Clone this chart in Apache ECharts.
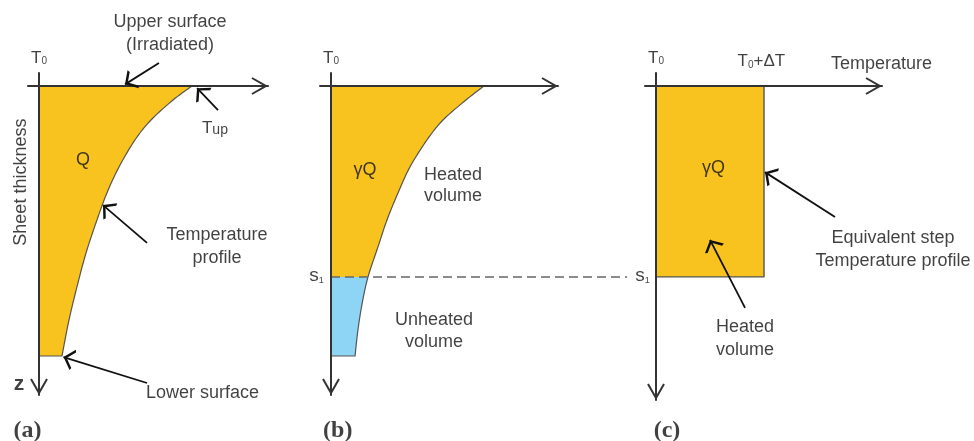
<!DOCTYPE html>
<html>
<head>
<meta charset="utf-8">
<title>Temperature profiles through the sheet thickness</title>
<script src="https://cdn.jsdelivr.net/npm/echarts@6.0.0/dist/echarts.min.js"></script>
<style>
html,body{margin:0;padding:0;background:#ffffff;}
#chart{width:974px;height:441px;}
</style>
</head>
<body>
<div id="chart"></div>
<script>
// ---------------- data ----------------
// temperature normalised: 0 = T0, 1 = Tup ; depth normalised: 0 = upper surface, 1 = lower surface
const profileA_depth = [1.000, 0.867, 0.744, 0.619, 0.496, 0.396, 0.300, 0.200, 0.126, 0.052, 0.000];
const profileA_temp  = [0.150, 0.196, 0.248, 0.307, 0.379, 0.444, 0.523, 0.627, 0.732, 0.876, 1.000];
const profileB_depth = [1.000, 0.904, 0.807, 0.707, 0.596, 0.496, 0.396, 0.300, 0.200, 0.126, 0.052, 0.000];
const profileB_temp  = [0.157, 0.176, 0.203, 0.242, 0.307, 0.366, 0.438, 0.516, 0.627, 0.732, 0.882, 1.000];
const heatedDepth = 0.707;     // s1
const stepTemp = 0.706;        // T0 + ΔT
const dashEndTemp = 1.935;     // extent of the s1 guide line (panel b units)

// ---------------- layout / style ----------------
const FONT = '"Liberation Sans", Arial, Helvetica, sans-serif';
const SERIF = '"Liberation Serif", "Times New Roman", serif';
const YELLOW = '#F8C21F', BLUE = '#8ED5F5', EDGE = '#555555', INK = '#111111', AXIS = '#333333';
const UNIT_T = 153, UNIT_Z = 270;           // px per unit
const AXIS_Y = 86, AXIS_TOP = 73, LEFT_EXT = 11;
const panels = [
  {x0: 39,  tipX: 268, tipY: 395},
  {x0: 331, tipX: 558, tipY: 395},
  {x0: 656, tipX: 882, tipY: 400}
];

function chevron(W, L, t) {
  const h = t / 2, len = Math.hypot(W, L), sn = W / len, cs = L / len, c = h / sn, yEnd = c + L;
  const pts = [[0, 0], [W + h * cs, yEnd - h * sn], [W - h * cs, yEnd + h * sn], [0, 2 * c],
               [-(W - h * cs), yEnd + h * sn], [-(W + h * cs), yEnd - h * sn]];
  const X = W + h * cs, Y = yEnd + h * sn;
  const f = p => (p[0] + X).toFixed(2) + ' ' + (p[1] + Y).toFixed(2);
  let d = 'path://M' + pts.map(f).join(' L') + ' Z';
  d += ' M' + f([0, -Y]) + ' L' + f([0.05, -Y]) + ' L' + f([0, -Y + 0.05]) + ' Z';
  return {symbol: d, size: [2 * X, 2 * Y]};
}
const AX_ARROW = chevron(8, 14, 2);
const NOTE_ARROW = chevron(5.5, 8.5, 1.8);

const SEG = 10;
function smoothPts(p) {
  const out = [p[0].slice()];
  for (let i = 0; i < p.length - 1; i++) {
    const p0 = p[Math.max(i - 1, 0)], p1 = p[i], p2 = p[i + 1], p3 = p[Math.min(i + 2, p.length - 1)];
    for (let k = 1; k <= SEG; k++) {
      const t = k / SEG, t2 = t * t, t3 = t2 * t;
      out.push([0, 1].map(j => 0.5 * (2 * p1[j] + (p2[j] - p0[j]) * t +
        (2 * p0[j] - 5 * p1[j] + 4 * p2[j] - p3[j]) * t2 + (3 * p1[j] - p0[j] - 3 * p2[j] + p3[j]) * t3)));
    }
  }
  return out;
}

const grids = panels.map(p => ({
  left: p.x0 - LEFT_EXT, top: AXIS_TOP, width: p.tipX - (p.x0 - LEFT_EXT), height: p.tipY - AXIS_TOP,
  outerBoundsMode: 'none', containLabel: false
}));
const xAxes = panels.map((p, i) => ({
  gridIndex: i, type: 'value', position: 'top', z: 5,
  min: -LEFT_EXT / UNIT_T, max: (p.tipX - p.x0) / UNIT_T,
  axisLine: {show: true, onZero: true, lineStyle: {color: AXIS, width: 2},
             symbol: ['none', AX_ARROW.symbol], symbolSize: AX_ARROW.size},
  axisTick: {show: false}, axisLabel: {show: false}, splitLine: {show: false}
}));
const yAxes = panels.map((p, i) => ({
  gridIndex: i, type: 'value', inverse: true, z: 5,
  min: -(AXIS_Y - AXIS_TOP) / UNIT_Z, max: (p.tipY - AXIS_Y) / UNIT_Z,
  axisLine: {show: true, onZero: true, lineStyle: {color: AXIS, width: 2},
             symbol: [AX_ARROW.symbol, 'none'], symbolSize: AX_ARROW.size},
  axisTick: {show: false}, axisLabel: {show: false}, splitLine: {show: false}
}));

// ---------------- annotations (layout, in panel units) ----------------
const RICH = {
  big: {fontSize: 17, fontFamily: FONT, color: INK, verticalAlign: 'bottom'},
  sub: {fontSize: 10, fontFamily: FONT, color: INK, verticalAlign: 'bottom'},
  up:  {fontSize: 14, fontFamily: FONT, color: INK, verticalAlign: 'bottom'},
  sl:  {fontSize: 19, fontFamily: FONT, color: INK, verticalAlign: 'bottom'},
  s1:  {fontSize: 9,  fontFamily: FONT, color: INK, verticalAlign: 'bottom'}
};
const T0 = '{big|T}{sub|0}';
const S1 = '{sl|s}{s1|1}';
const PANEL_TAG = {fontFamily: SERIF, fontWeight: 'bold', fontSize: 24};
const labelsA = [
  [0.856, -0.196, 'Upper surface\n(Irradiated)', {lineHeight: 23}],
  [0, -0.104, T0, {}],
  [1.150, 0.157, '{big|T}{up|up}', {}],
  [0.288, 0.274, 'Q', {}],
  [-0.118, 0.356, 'Sheet thickness', {rotate: 90}],
  [1.163, 0.593, 'Temperature\nprofile', {lineHeight: 23}],
  [1.069, 1.137, 'Lower surface', {}],
  [-0.131, 1.104, 'z', {fontWeight: 'bold', fontSize: 21}],
  [-0.075, 1.278, '(a)', PANEL_TAG]
];
const labelsB = [
  [0, -0.104, T0, {}],
  [0.222, 0.311, 'γQ', {}],
  [0.797, 0.367, 'Heated\nvolume', {lineHeight: 21}],
  [0.673, 0.907, 'Unheated\nvolume', {lineHeight: 22}],
  [-0.095, 0.702, S1, {}],
  [0.044, 1.278, '(b)', PANEL_TAG]
];
const labelsC = [
  [0, -0.104, T0, {}],
  [0.689, -0.091, '{big|T}{sub|0}{big|+ΔT}', {}],
  [1.474, -0.083, 'Temperature', {}],
  [0.376, 0.302, 'γQ', {}],
  [1.549, 0.604, 'Equivalent step\nTemperature profile', {lineHeight: 23}],
  [0.582, 0.937, 'Heated\nvolume', {lineHeight: 23}],
  [-0.088, 0.702, S1, {}],
  [0.072, 1.278, '(c)', PANEL_TAG]
];
const arrowsA = [
  [[0.784, -0.085], [0.562, -0.006]],
  [[1.170, 0.089], [1.033, 0.008]],
  [[0.706, 0.581], [0.418, 0.441]],
  [[0.706, 1.100], [0.160, 1.004]]
];
const arrowsC = [
  [[1.170, 0.485], [0.712, 0.319]],
  [[0.582, 0.822], [0.353, 0.570]]
];

function labelSeries(i, list) {
  return {
    type: 'scatter', xAxisIndex: i, yAxisIndex: i, silent: true, clip: false, z: 8,
    symbolSize: 0, itemStyle: {color: 'rgba(0,0,0,0)'},
    label: {show: true, position: 'inside', color: INK, fontFamily: FONT, fontSize: 18,
            align: 'center', verticalAlign: 'middle', rich: RICH},
    data: list.map(l => ({value: [l[0], l[1]], label: Object.assign({formatter: l[2]}, l[3])}))
  };
}
function arrowSeries(i, list) {
  return {
    type: 'lines', coordinateSystem: 'cartesian2d', xAxisIndex: i, yAxisIndex: i, silent: true, clip: false, z: 7,
    symbol: ['none', NOTE_ARROW.symbol], symbolSize: NOTE_ARROW.size,
    lineStyle: {color: INK, width: 1.8, opacity: 1, curveness: 0},
    data: list.map(c => ({coords: c}))
  };
}

const series = [
  { // (a) continuous temperature profile
    type: 'custom', xAxisIndex: 0, yAxisIndex: 0, silent: true, z: 2,
    data: profileA_temp.map((t, i) => [t, profileA_depth[i]]),
    renderItem: function (params, api) {
      if (params.dataIndex !== 0) return null;
      const c = smoothPts(profileA_temp.map((t, i) => api.coord([t, profileA_depth[i]])));
      const o = api.coord([0, 0]), b = api.coord([0, 1]);
      return {type: 'group', children: [
        {type: 'polygon', shape: {points: [o, b].concat(c)}, style: {fill: YELLOW}},
        {type: 'polyline', shape: {points: [b].concat(c)}, style: {fill: null, stroke: EDGE, lineWidth: 1.2}}
      ]};
    }
  },
  { // (b) heated / unheated split of the same profile
    type: 'custom', xAxisIndex: 1, yAxisIndex: 1, silent: true, z: 2,
    data: profileB_temp.map((t, i) => [t, profileB_depth[i]]),
    renderItem: function (params, api) {
      if (params.dataIndex !== 0) return null;
      const c = smoothPts(profileB_temp.map((t, i) => api.coord([t, profileB_depth[i]])));
      const k = profileB_depth.indexOf(heatedDepth) * SEG;
      const lower = c.slice(0, k + 1), upper = c.slice(k);
      const o = api.coord([0, 0]), m = api.coord([0, heatedDepth]), b = api.coord([0, 1]);
      return {type: 'group', children: [
        {type: 'polygon', shape: {points: [m, b].concat(lower)}, style: {fill: BLUE}},
        {type: 'polygon', shape: {points: [o, m].concat(upper)}, style: {fill: YELLOW}},
        {type: 'polyline', shape: {points: [b].concat(c)}, style: {fill: null, stroke: EDGE, lineWidth: 1.2}}
      ]};
    }
  },
  { // s1 guide line
    type: 'lines', coordinateSystem: 'cartesian2d', xAxisIndex: 1, yAxisIndex: 1, silent: true, clip: false, z: 4,
    symbol: ['none', 'none'],
    lineStyle: {color: '#666666', width: 1.5, opacity: 1, type: [9, 5], curveness: 0},
    data: [{coords: [[0, heatedDepth], [dashEndTemp, heatedDepth]]}]
  },
  { // (c) equivalent step profile
    type: 'line', xAxisIndex: 2, yAxisIndex: 2, silent: true, z: 2, symbol: 'none',
    data: [[0, heatedDepth], [stepTemp, heatedDepth], [stepTemp, 0]],
    lineStyle: {color: EDGE, width: 1.4},
    areaStyle: {color: YELLOW, opacity: 1, origin: 'auto'}
  },
  arrowSeries(0, arrowsA),
  arrowSeries(2, arrowsC),
  labelSeries(0, labelsA),
  labelSeries(1, labelsB),
  labelSeries(2, labelsC)
];

const chart = echarts.init(document.getElementById('chart'), null, {renderer: 'canvas'});
chart.setOption({
  animation: false,
  backgroundColor: '#ffffff',
  grid: grids,
  xAxis: xAxes,
  yAxis: yAxes,
  series: series
});
</script>
</body>
</html>
